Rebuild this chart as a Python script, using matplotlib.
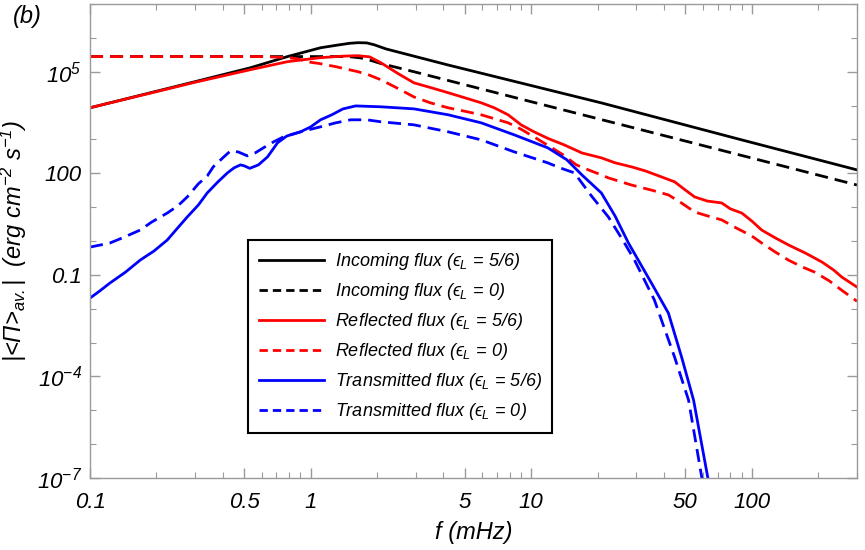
import matplotlib
matplotlib.use("Agg")
import matplotlib.pyplot as plt
from matplotlib.lines import Line2D
from matplotlib.ticker import FixedLocator, NullFormatter

plt.rcParams["font.family"] = ["Liberation Sans", "DejaVu Sans"]
plt.rcParams["font.style"] = "italic"
plt.rcParams["mathtext.fontset"] = "custom"
plt.rcParams["mathtext.rm"] = "Liberation Sans:italic"
plt.rcParams["mathtext.it"] = "Liberation Sans:italic"
plt.rcParams["mathtext.sf"] = "Liberation Sans:italic"
plt.rcParams["mathtext.fallback"] = "stixsans"

# ----- data (f in mHz, flux in erg cm^-2 s^-1) -----
f_in_56 = [0.1, 0.3, 0.534, 0.786, 1.11, 1.3, 1.5, 1.64, 1.8, 1.95, 2.2, 4.2, 20.8, 90, 300]
in_56 = [8.6e3, 5.1e4, 1.31e5, 2.8e5, 5.1e5, 6.0e5, 6.9e5, 7.2e5, 7.1e5, 6.2e5, 4.7e5,
         1.58e5, 1.2e4, 970, 126]

f_in_0 = [0.1, 1.3, 1.5, 1.69, 1.9, 2.08, 2.94, 10, 30, 100, 300]
in_0 = [2.8e5, 2.8e5, 2.78e5, 2.55e5, 2.1e5, 1.75e5, 1.0e5, 1.3e4, 2.1e3, 282, 45]

f_ref_56 = [0.1, 0.3, 0.534, 0.786, 1.11, 1.4, 1.64, 1.85, 2.08, 2.5, 2.94, 3.5, 4.2,
            5.0, 5.93, 6.8, 7.86, 9, 10.3, 12, 14.1, 17, 20.8, 24, 28.5, 33, 39, 44.7,
            50, 55.1, 63, 73.1, 80, 90.1, 100, 111, 128, 147, 175, 208, 235, 256, 300]
ref_56 = [8.6e3, 4.9e4, 1.15e5, 1.98e5, 2.6e5, 2.88e5, 2.97e5, 2.75e5, 1.85e5, 8.7e4,
          4.7e4, 3.4e4, 2.4e4, 1.7e4, 1.21e4, 8.6e3, 5.35e3, 2.7e3, 1.68e3, 1.05e3,
          692, 398, 286, 204, 155, 117, 78, 56, 32, 20, 15.1, 13.3, 8.9, 6.7, 3.9,
          2.1, 1.23, 0.76, 0.44, 0.24, 0.139, 0.086, 0.0436]

f_ref_0 = [0.1, 0.6, 0.786, 0.87, 1.0, 1.1, 1.3, 1.64, 1.85, 2.08, 2.5, 2.94, 3.5, 4.2,
           5.0, 5.93, 7.86, 9, 10.3, 12, 14, 16, 18.7, 20.8, 22.4, 28.5, 35, 41.9, 48,
           55.1, 63, 73.1, 85, 100, 111, 128, 147, 170, 193, 225, 256, 300]
ref_0 = [2.8e5, 2.8e5, 2.63e5, 2.4e5, 1.9e5, 1.74e5, 1.41e5, 1.0e5, 7.9e4, 5.8e4,
         3.16e4, 1.8e4, 1.2e4, 8.6e3, 6.8e3, 5.35e3, 3.1e3, 2.0e3, 1.19e3, 646, 347,
         178, 117, 90, 73, 45, 32, 23, 13.3, 7.2, 5.5, 4.2, 2.43, 1.41, 0.87, 0.47,
         0.27, 0.17, 0.12, 0.066, 0.035, 0.0166]

f_tr_56 = [0.1, 0.11, 0.123, 0.145, 0.169, 0.195, 0.224, 0.25, 0.276, 0.31, 0.34, 0.38,
           0.42, 0.45, 0.481, 0.5, 0.53, 0.58, 0.638, 0.708, 0.78, 0.901, 1.0, 1.11,
           1.25, 1.4, 1.6, 2.08, 2.94, 4.2, 5.93, 8.37, 11.9, 14.5, 17, 20.8, 24, 27.6,
           35.1, 41.9, 48.1, 54.5, 64.5]
tr_56 = [0.0206, 0.0324, 0.0571, 0.121, 0.274, 0.506, 1.07, 2.45, 5.13, 11.6, 26.3,
         55.7, 103, 145, 177, 166, 140, 177, 305, 794, 1.26e3, 1.68e3, 2.34e3, 3.8e3,
         5.37e3, 7.94e3, 9.77e3, 9.2e3, 8.0e3, 5.35e3, 3.1e3, 1.37e3, 564, 251, 89,
         26.3, 5.5, 0.873, 0.0571, 7.4e-3, 3.7e-4, 1.98e-5, 5e-8]

f_tr_0 = [0.1, 0.123, 0.14, 0.169, 0.19, 0.224, 0.25, 0.276, 0.31, 0.34, 0.362, 0.4,
          0.433, 0.47, 0.517, 0.56, 0.611, 0.68, 0.754, 0.901, 1.11, 1.3, 1.52, 1.8,
          2.08, 2.94, 4.2, 5.93, 8.37, 11.9, 13.5, 15.7, 18.7, 22.4, 26, 29.4, 36.2,
          44.7, 51.7, 60.5]
tr_0 = [0.66, 0.87, 1.23, 2.11, 3.6, 6.7, 10.9, 20, 49, 83, 155, 286, 457, 427, 327,
        398, 564, 851, 1.19e3, 1.68e3, 2.36e3, 3.09e3, 3.8e3, 3.8e3, 3.32e3, 2.7e3,
        1.68e3, 973, 430, 203, 145, 103, 22, 5.1, 1.07, 0.274, 0.018, 3.7e-4, 2.0e-5,
        5e-8]

eps = "$\u03f5_L$"
labels = [
    f"Incoming flux ({eps} = 5/6)",
    f"Incoming flux ({eps} = 0)",
    f"Reflected flux ({eps} = 5/6)",
    f"Reflected flux ({eps} = 0)",
    f"Transmitted flux ({eps} = 5/6)",
    f"Transmitted flux ({eps} = 0)",
]

xticks = [0.1, 0.5, 1, 5, 10, 50, 100]
xticklabels = ["0.1", "0.5", "1", "5", "10", "50", "100"]
yticks = [1e5, 1e2, 1e-1, 1e-4, 1e-7]
yticklabels = ["$10^5$", "100", "0.1", "$10^{-4}$", "$10^{-7}$"]

# ----- plot -----
fig = plt.figure(figsize=(8.65, 5.5), dpi=100)
ax = fig.add_axes([90 / 865, 72 / 550, 767 / 865, 474 / 550])

lw = 2.0
series = [
    (f_in_56, in_56, "black", "-"),
    (f_in_0, in_0, "black", "--"),
    (f_ref_56, ref_56, "red", "-"),
    (f_ref_0, ref_0, "red", "--"),
    (f_tr_56, tr_56, "blue", "-"),
    (f_tr_0, tr_0, "blue", "--"),
]
handles = []
for x, y, c, ls in series:
    line, = ax.plot(x, y, color=c, lw=lw, solid_joinstyle="round")
    h = Line2D([], [], color=c, lw=lw)
    if ls == "--":
        line.set_dashes((4.7, 2.5))
        h.set_dashes((3.0, 1.8))
    handles.append(h)

ax.set_xscale("log")
ax.set_yscale("log")
ax.set_xlim(0.1, 300)
ax.set_ylim(1e-7, 1e7)

ax.xaxis.set_major_locator(FixedLocator(xticks))
ax.set_xticklabels(xticklabels)
xminor = [0.2, 0.3, 0.4, 0.6, 0.7, 0.8, 0.9, 2, 3, 4, 6, 7, 8, 9,
          20, 30, 40, 60, 70, 80, 90, 200, 300]
ax.xaxis.set_minor_locator(FixedLocator(xminor))
ax.xaxis.set_minor_formatter(NullFormatter())

ax.yaxis.set_major_locator(FixedLocator(yticks))
ax.set_yticklabels(yticklabels)
ax.yaxis.set_minor_locator(FixedLocator([10.0 ** k for k in range(-7, 8)]))
ax.yaxis.set_minor_formatter(NullFormatter())

frame_col = "#9a9a9a"
for s in ax.spines.values():
    s.set_color(frame_col)
    s.set_linewidth(1.0)
ax.tick_params(which="both", direction="in", top=True, right=True,
               color=frame_col, labelsize=16, labelcolor="black")
ax.tick_params(which="major", length=7, width=1.0, pad=6)
ax.tick_params(which="minor", length=4, width=0.8)
ax.tick_params(axis="x", which="major", pad=10)

ax.set_xlabel("f (mHz)", fontsize=17, labelpad=6)
ax.set_ylabel("|<$\\Pi$>$_{av.}$|  (erg cm$^{-2}$ s$^{-1}$)", fontsize=17)
ax.yaxis.set_label_coords(-0.080, 0.5)

leg = ax.legend(handles, labels, loc="upper left", bbox_to_anchor=(0.206, 0.502),
                borderaxespad=0, fontsize=13, handlelength=3.6, handletextpad=0.6,
                labelspacing=0.5, borderpad=0.6, fancybox=False, framealpha=1,
                edgecolor="black")
leg.get_frame().set_linewidth(1.5)

fig.text(0.015, 0.99, "(b)", fontsize=17, va="top", ha="left")

fig.savefig("out.png", dpi=100)
